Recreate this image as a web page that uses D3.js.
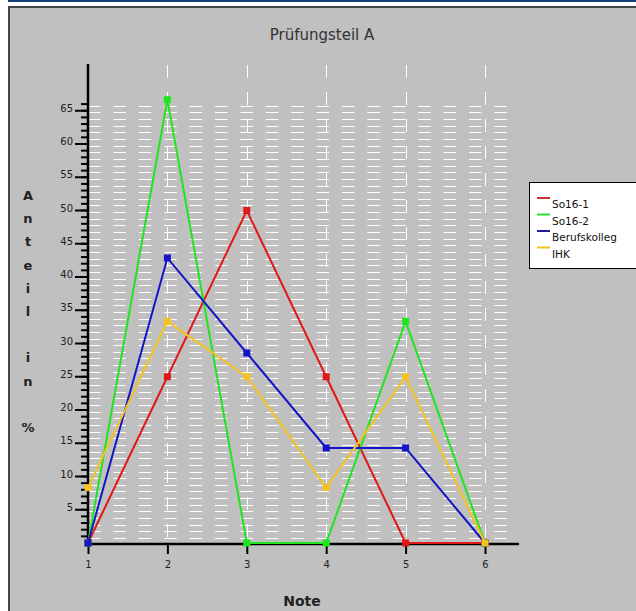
<!DOCTYPE html>
<html lang="de">
<head>
<meta charset="UTF-8">
<title>Prüfungsteil A</title>
<style>
    body { margin: 0; background: #fff; }
    svg { display: block; font-family: "DejaVu Sans", Verdana, sans-serif; }
</style>
</head>
<body>
<div id="chart"></div>
<script src="https://d3js.org/d3.v7.min.js"></script>
<script>
// data
var notes = [1, 2, 3, 4, 5, 6];
var so16_1 = [0, 25, 50, 25, 0, 0];
var so16_2 = [0, 66.67, 0, 0, 33.33, 0];
var berufskolleg = [0, 42.86, 28.57, 14.29, 14.29, 0];
var ihk = [8.33, 33.33, 25, 8.33, 25, 0];
var seriesNames = ["So16-1", "So16-2", "Berufskolleg", "IHK"];
var yTickValues = [5, 10, 15, 20, 25, 30, 35, 40, 45, 50, 55, 60, 65];
var yTitle = "Anteil in %";

var series = [
    { name: seriesNames[0], values: so16_1, color: "#e01818", key: "#c43434" },
    { name: seriesNames[1], values: so16_2, color: "#1ee61e", key: "#2ee02e" },
    { name: seriesNames[2], values: berufskolleg, color: "#1414c8", key: "#1c1c96" },
    { name: seriesNames[3], values: ihk, color: "#f5c21e", key: "#f0c020" }
];

var W = 636, H = 611;
var svg = d3.select("#chart").append("svg").attr("width", W).attr("height", H);

// frame
svg.append("rect").attr("x", 8).attr("y", 0).attr("width", W - 8).attr("height", 2).attr("fill", "#17407a");
svg.append("rect").attr("x", 9).attr("y", 7).attr("width", W).attr("height", H)
    .attr("fill", "#c0c0c0").attr("stroke", "#444").attr("stroke-width", 2);

svg.append("text").attr("x", 322).attr("y", 40).attr("text-anchor", "middle")
    .attr("font-size", 15).attr("fill", "#333").text("Prüfungsteil A");

var x = d3.scaleLinear().domain([1, 6]).range([88, 485]);
var y = d3.scaleLinear().domain([0, 65]).range([543, 110.75]);

// grid
var grid = svg.append("g");
grid.selectAll("line.h").data(d3.range(0, 66)).join("line")
    .attr("x1", 88).attr("x2", 512)
    .attr("y1", function (d) { return Math.round(y(d) - 5) + 0.5; })
    .attr("y2", function (d) { return Math.round(y(d) - 5) + 0.5; })
    .attr("stroke", "#fff").attr("stroke-width", 1).attr("stroke-dasharray", "12.5,12.9");
grid.selectAll("line.v").data(notes.slice(1)).join("line")
    .attr("x1", function (d) { return Math.round(x(d)) + 0.5; })
    .attr("x2", function (d) { return Math.round(x(d)) + 0.5; })
    .attr("y1", 65).attr("y2", 543)
    .attr("stroke", "#fff").attr("stroke-width", 1).attr("stroke-dasharray", "13,14");

// y axis
var yAxisG = svg.append("g");
yAxisG.selectAll("line.minor").data(d3.range(1, 67)).join("line")
    .attr("x1", 81).attr("x2", 88)
    .attr("y1", function (d) { return y(d); }).attr("y2", function (d) { return y(d); })
    .attr("stroke", "#000").attr("stroke-width", 2);
yAxisG.selectAll("line.major").data(yTickValues).join("line")
    .attr("x1", 75).attr("x2", 88)
    .attr("y1", function (d) { return y(d); }).attr("y2", function (d) { return y(d); })
    .attr("stroke", "#000").attr("stroke-width", 2);
yAxisG.selectAll("text").data(yTickValues).join("text")
    .attr("x", 73).attr("y", function (d) { return y(d) + 1; })
    .attr("text-anchor", "end").attr("font-size", 10).attr("fill", "#222")
    .text(function (d) { return d; });
svg.append("line").attr("x1", 88).attr("x2", 88).attr("y1", 64).attr("y2", 545)
    .attr("stroke", "#000").attr("stroke-width", 2.5);

// x axis
var xAxis = d3.axisBottom(x).tickValues(notes).tickSize(10).tickFormat(d3.format("d"));
var xg = svg.append("g").attr("transform", "translate(0,544)").call(xAxis);
xg.select(".domain").remove();
xg.selectAll(".tick line").attr("stroke", "#000").attr("stroke-width", 2);
xg.selectAll(".tick text").attr("font-size", 10).attr("fill", "#222").attr("dy", "1.1em")
    .attr("font-family", "DejaVu Sans, sans-serif");
svg.append("line").attr("x1", 87).attr("x2", 519).attr("y1", 544).attr("y2", 544)
    .attr("stroke", "#000").attr("stroke-width", 2.5);

// axis titles
svg.append("text").attr("x", 302).attr("y", 606).attr("text-anchor", "middle")
    .attr("font-size", 14).attr("font-weight", "bold").attr("fill", "#222").text("Note");
svg.append("g").selectAll("text").data(yTitle.split("")).join("text")
    .attr("x", 28).attr("y", function (d, i) { return 200 + i * 23.2; })
    .attr("text-anchor", "middle").attr("font-size", 13).attr("font-weight", "bold").attr("fill", "#222")
    .text(function (d) { return d; });

// lines
var line = d3.line().x(function (d, i) { return x(notes[i]); }).y(function (d) { return y(d); });
series.forEach(function (s) {
    var g = svg.append("g");
    g.append("path").attr("d", line(s.values)).attr("fill", "none")
        .attr("stroke", s.color).attr("stroke-width", 2);
    g.selectAll("rect").data(s.values).join("rect")
        .attr("x", function (d, i) { return x(notes[i]) - 3.5; })
        .attr("y", function (d) { return y(d) - 3.5; })
        .attr("width", 7).attr("height", 7).attr("fill", s.color);
});

// legend
var lg = svg.append("g");
lg.append("rect").attr("x", 529.5).attr("y", 182.5).attr("width", 120).attr("height", 86)
    .attr("fill", "#fff").attr("stroke", "#000");
series.forEach(function (s, i) {
    var yy = 198 + i * 16.5;
    lg.append("line").attr("x1", 537).attr("x2", 550).attr("y1", yy).attr("y2", yy)
        .attr("stroke", s.key).attr("stroke-width", 2);
    lg.append("text").attr("x", 552).attr("y", yy + 10).attr("font-size", 10.5).attr("fill", "#111")
        .text(s.name);
});
</script>
</body>
</html>
